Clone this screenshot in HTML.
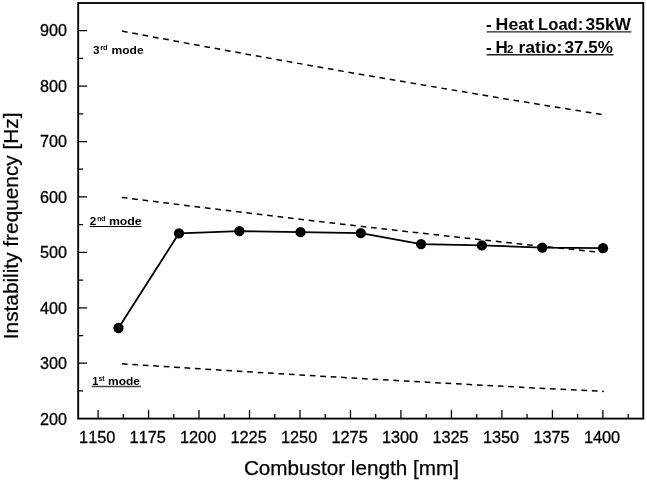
<!DOCTYPE html>
<html lang="en">
<head>
<meta charset="utf-8">
<title>Instability frequency vs combustor length</title>
<style>
  html, body { margin: 0; padding: 0; background: #ffffff; }
  body { width: 647px; height: 482px; overflow: hidden; }
  svg { display: block; will-change: transform; }
  text { font-family: "Liberation Sans", Arial, Helvetica, sans-serif; fill: #000; }
  .tick { font-size: 16px; font-kerning: none; stroke: #000; stroke-width: 0.3px; }
  .title { font-size: 20.7px; stroke: #000; stroke-width: 0.25px; }
  .mode { font-size: 11.7px; font-weight: bold; }
  .sup { font-size: 7.4px; font-weight: bold; }
  .info { font-size: 17px; font-weight: bold; }
  .infosub { font-size: 11.5px; font-weight: bold; }
</style>
</head>
<body>
<svg width="647" height="482" viewBox="0 0 647 482">
  <rect x="0" y="0" width="647" height="482" fill="#ffffff"/>

  <!-- plot frame -->
  <rect x="78.2" y="3" width="565.1" height="415.6" fill="none" stroke="#000" stroke-width="1.85"/>

  <!-- y major ticks -->
  <g stroke="#000" stroke-width="1.25" fill="none">
    <path d="M78.3 30.7H87.1 M78.3 86.1H87.1 M78.3 141.5H87.1 M78.3 196.9H87.1 M78.3 252.4H87.1 M78.3 307.8H87.1 M78.3 363.2H87.1"/>
    <!-- y minor ticks -->
    <path d="M78.3 58.4H83.2 M78.3 113.8H83.2 M78.3 169.2H83.2 M78.3 224.7H83.2 M78.3 280.1H83.2 M78.3 335.5H83.2 M78.3 390.9H83.2"/>
    <!-- x major ticks -->
    <path d="M98.1 418.6V409.9 M148.6 418.6V409.9 M199 418.6V409.9 M249.5 418.6V409.9 M300 418.6V409.9 M350.5 418.6V409.9 M400.9 418.6V409.9 M451.4 418.6V409.9 M501.9 418.6V409.9 M552.4 418.6V409.9 M602.9 418.6V409.9"/>
    <!-- x minor ticks -->
    <path d="M123.3 418.6V413.9 M173.8 418.6V413.9 M224.3 418.6V413.9 M274.8 418.6V413.9 M325.2 418.6V413.9 M375.7 418.6V413.9 M426.2 418.6V413.9 M476.7 418.6V413.9 M527.1 418.6V413.9 M577.6 418.6V413.9 M628.1 418.6V413.9"/>
  </g>

  <!-- dashed mode lines -->
  <g stroke="#000" stroke-width="1.5" fill="none" stroke-dasharray="5.7 4.76">
    <path d="M122 31.1 Q363 76.5 604 114.8"/>
    <path d="M121.8 197.4 Q361 227.8 600.5 252.3"/>
    <path d="M121.9 363.8 Q362.8 379.6 603.9 391.4"/>
  </g>

  <!-- data line -->
  <polyline fill="none" stroke="#000" stroke-width="1.8" stroke-linejoin="round"
    points="118.5,328 179,233.3 239.4,231.1 300.5,232.2 360.8,233.2 421.1,244.1 481.9,245.4 542.3,247.7 603,248.2"/>
  <g fill="#000">
    <circle cx="118.5" cy="328" r="5.15"/>
    <circle cx="179" cy="233.3" r="5.15"/>
    <circle cx="239.4" cy="231.1" r="5.15"/>
    <circle cx="300.5" cy="232.2" r="5.15"/>
    <circle cx="360.8" cy="233.2" r="5.15"/>
    <circle cx="421.1" cy="244.1" r="5.15"/>
    <circle cx="481.9" cy="245.4" r="5.15"/>
    <circle cx="542.3" cy="247.7" r="5.15"/>
    <circle cx="603" cy="248.2" r="5.15"/>
  </g>

  <!-- y tick labels -->
  <g class="tick" text-anchor="end">
    <text transform="translate(66.9 36.4) scale(1.012 1)">900</text>
    <text transform="translate(66.9 91.8) scale(1.012 1)">800</text>
    <text transform="translate(66.9 147.3) scale(1.012 1)">700</text>
    <text transform="translate(66.9 202.8) scale(1.012 1)">600</text>
    <text transform="translate(66.9 258.3) scale(1.012 1)">500</text>
    <text transform="translate(66.9 313.8) scale(1.012 1)">400</text>
    <text transform="translate(66.9 369.3) scale(1.012 1)">300</text>
    <text transform="translate(66.9 424.8) scale(1.012 1)">200</text>
  </g>

  <!-- x tick labels -->
  <g class="tick" text-anchor="middle">
    <text transform="translate(97.2 442.5) scale(1.019 1)">1150</text>
    <text transform="translate(147.7 442.5) scale(1.019 1)">1175</text>
    <text transform="translate(198.1 442.5) scale(1.019 1)">1200</text>
    <text transform="translate(248.6 442.5) scale(1.019 1)">1225</text>
    <text transform="translate(299.1 442.5) scale(1.019 1)">1250</text>
    <text transform="translate(349.6 442.5) scale(1.019 1)">1275</text>
    <text transform="translate(400 442.5) scale(1.019 1)">1300</text>
    <text transform="translate(450.5 442.5) scale(1.019 1)">1325</text>
    <text transform="translate(501 442.5) scale(1.019 1)">1350</text>
    <text transform="translate(551.5 442.5) scale(1.019 1)">1375</text>
    <text transform="translate(602 442.5) scale(1.019 1)">1400</text>
  </g>

  <!-- axis titles -->
  <text class="title" x="243.9" y="475.2">Combustor length [mm]</text>
  <text class="title" style="font-size:20.82px" transform="translate(17.9 339.2) rotate(-90)">Instability frequency [Hz]</text>

  <!-- mode labels -->
  <g class="mode">
    <text x="93.1" y="53.6">3</text>
    <text class="sup" x="100.2" y="49.6" textLength="7.3" lengthAdjust="spacingAndGlyphs">rd</text>
    <text x="111.5" y="53.6" textLength="32.1" lengthAdjust="spacingAndGlyphs">mode</text>

    <text x="89.8" y="224.5">2</text>
    <text class="sup" x="97.2" y="220.6" textLength="8.2" lengthAdjust="spacingAndGlyphs">nd</text>
    <text x="108.9" y="224.5" textLength="32.8" lengthAdjust="spacingAndGlyphs">mode</text>

    <text x="91.9" y="384.7">1</text>
    <text class="sup" x="98.4" y="380.5" textLength="6" lengthAdjust="spacingAndGlyphs">st</text>
    <text x="108.1" y="384.7" textLength="31.8" lengthAdjust="spacingAndGlyphs">mode</text>
  </g>
  <path d="M89.7 226.5H141.5" stroke="#000" stroke-width="1" fill="none"/>
  <path d="M91.7 386.5H140.9" stroke="#444" stroke-width="1.5" fill="none"/>

  <!-- info box -->
  <g class="info">
    <text x="486" y="29.6">-</text>
    <text x="495.6" y="29.6" textLength="38.4" lengthAdjust="spacingAndGlyphs">Heat</text>
    <text x="538.1" y="29.6" textLength="45.2" lengthAdjust="spacingAndGlyphs">Load:</text>
    <text x="585.6" y="29.6" textLength="45.3" lengthAdjust="spacingAndGlyphs">35kW</text>
    <text x="486" y="52.6">-</text>
    <text x="495.6" y="52.6">H</text>
    <text class="infosub" x="506.9" y="52.8">2</text>
    <text x="518.5" y="52.6" textLength="43.8" lengthAdjust="spacingAndGlyphs">ratio:</text>
    <text x="564.6" y="52.6" textLength="48.2" lengthAdjust="spacingAndGlyphs">37.5%</text>
  </g>
  <path d="M486.6 31.9H631.4" stroke="#222" stroke-width="1.4" fill="none"/>
  <path d="M486.6 54.8H613.5" stroke="#222" stroke-width="1.4" fill="none"/>
</svg>
</body>
</html>
